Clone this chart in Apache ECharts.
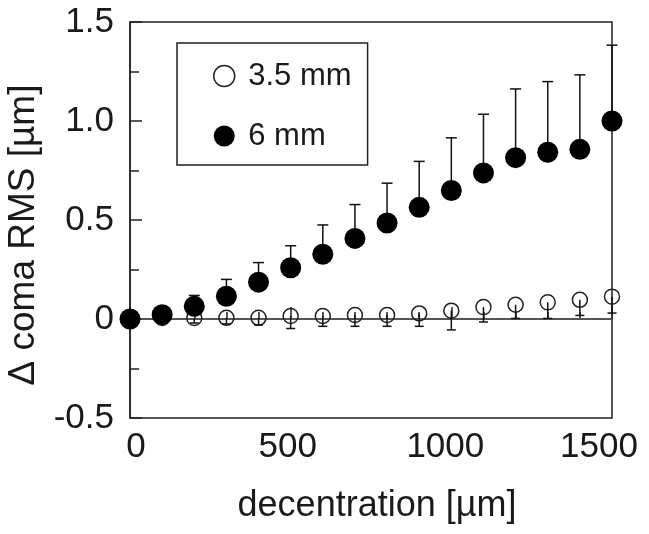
<!DOCTYPE html>
<html>
<head>
<meta charset="utf-8">
<script src="https://cdn.jsdelivr.net/npm/echarts@6/dist/echarts.min.js"></script>
<style>html,body{margin:0;padding:0;background:#fff;}#c{width:649px;height:534px;}</style>
</head>
<body>
<div id="c"></div>
<script>
const decentration = [0, 100, 200, 300, 400, 500, 600, 700, 800, 900, 1000, 1100, 1200, 1300, 1400, 1500];
const coma35 = [0, 0.005, 0.005, 0.006, 0.006, 0.015, 0.015, 0.02, 0.02, 0.028, 0.042, 0.06, 0.072, 0.084, 0.097, 0.113];
const coma35Lower = [0, -0.01, -0.02, -0.025, -0.03, -0.048, -0.037, -0.037, -0.037, -0.037, -0.055, -0.015, 0.003, 0.003, 0.018, 0.03];
const coma6 = [0, 0.022, 0.064, 0.115, 0.186, 0.259, 0.327, 0.407, 0.485, 0.564, 0.649, 0.738, 0.815, 0.842, 0.857, 1.0];
const coma6Upper = [0, 0.03, 0.119, 0.2, 0.285, 0.37, 0.475, 0.578, 0.686, 0.796, 0.915, 1.034, 1.162, 1.199, 1.233, 1.383];
const yTicks = [-0.5, 0, 0.5, 1.0, 1.5];
const xTicks = [0, 500, 1000, 1500];

const FONT = 'Liberation Sans, Arial, sans-serif';
const TXT = '#1a1a1a';

function errItem(capW) {
  return function (params, api) {
    const p0 = api.coord([api.value(0), api.value(1)]);
    const p1 = api.coord([api.value(0), api.value(2)]);
    const st = { stroke: '#111', lineWidth: 1.5 };
    return {
      type: 'group',
      children: [
        { type: 'line', shape: { x1: p0[0], y1: p0[1], x2: p1[0], y2: p1[1] }, style: st },
        { type: 'line', shape: { x1: p1[0] - capW / 2, y1: p1[1], x2: p1[0] + capW / 2, y2: p1[1] }, style: st }
      ]
    };
  };
}

const xLabStyle = { fontFamily: FONT, fontSize: 35, color: TXT };
const chart = echarts.init(document.getElementById('c'), null, { renderer: 'canvas' });
chart.setOption({
  animation: false,
  backgroundColor: '#fff',
  textStyle: { fontFamily: FONT },
  grid: { left: 130, right: 37, top: 22, bottom: 116, containLabel: false, outerBoundsMode: 'none',
    show: true, borderColor: '#222', borderWidth: 1.5, backgroundColor: 'transparent' },
  legend: {
    left: 177, top: 43, orient: 'vertical',
    backgroundColor: '#fff',
    borderColor: '#222', borderWidth: 1.5, borderRadius: 0,
    padding: [16, 16, 12, 36],
    itemWidth: 38, itemHeight: 21, itemGap: 26,
    textStyle: { fontFamily: FONT, fontSize: 31, color: TXT, lineHeight: 34 },
    data: [
      { name: '3.5 mm', icon: 'circle', itemStyle: { color: 'rgba(255,255,255,0)', borderColor: '#222', borderWidth: 1.5 } },
      { name: '6 mm', icon: 'circle', itemStyle: { color: '#000', borderWidth: 0 } }
    ]
  },
  xAxis: {
    type: 'value', min: 0, max: 1500, interval: 500,
    name: 'decentration [µm]', nameLocation: 'middle', nameGap: 70,
    nameTextStyle: { fontFamily: FONT, fontSize: 36, color: TXT, padding: [0, 0, 0, 12] },
    axisLine: { show: true, lineStyle: { color: '#222', width: 1.5 } },
    axisTick: { show: true, inside: true, length: 12, lineStyle: { color: '#222', width: 1.5 } },
    minorTick: { show: true, splitNumber: 5, length: 7, lineStyle: { color: '#222', width: 1.5 } },
    axisLabel: {
      fontFamily: FONT, fontSize: 35, color: TXT, margin: 12,
      formatter: v => {
        if (v === 0) return '{a|0}';
        if (v === 500) return '{b|500}';
        if (v === 1000) return '{c|1000}';
        if (v === 1500) return '{d|1500}';
        return '';
      },
      rich: {
        a: Object.assign({ padding: [0, 0, 0, 12] }, xLabStyle),
        b: Object.assign({ padding: [0, 6, 0, 0] }, xLabStyle),
        c: Object.assign({ padding: [0, 12, 0, 0] }, xLabStyle),
        d: Object.assign({ padding: [0, 26, 0, 0] }, xLabStyle)
      }
    },
    splitLine: { show: false }
  },
  yAxis: {
    type: 'value', min: -0.5, max: 1.5, interval: 0.5,
    name: 'Δ coma RMS [µm]', nameLocation: 'middle', nameGap: 80, nameRotate: 90,
    nameTextStyle: { fontFamily: FONT, fontSize: 37, color: TXT, padding: [0, 30, 0, 0] },
    axisLine: { show: true, lineStyle: { color: '#222', width: 1.5 } },
    axisTick: { show: true, inside: true, length: 12, lineStyle: { color: '#222', width: 1.5 } },
    minorTick: { show: true, splitNumber: 2, length: 9, lineStyle: { color: '#222', width: 1.5 } },
    axisLabel: { fontFamily: FONT, fontSize: 35, color: TXT, margin: 16,
      formatter: v => { const t = yTicks.find(k => Math.abs(k - v) < 1e-9); return t === undefined ? '' : (t === 0 ? '0' : t.toFixed(1)); } },
    splitLine: { show: false }
  },
  series: [
    {
      name: 'zero', type: 'line', data: [[0, 0], [1500, 0]], symbol: 'none',
      lineStyle: { color: '#555', width: 1.5 }, z: 1, silent: true
    },
    {
      name: '3.5 mm', type: 'scatter', symbol: 'circle', symbolSize: 15,
      data: decentration.map((x, i) => [x, coma35[i]]),
      itemStyle: { color: 'rgba(255,255,255,0)', borderColor: '#222', borderWidth: 1.5, opacity: 1 },
      z: 3
    },
    {
      name: 'err35', type: 'custom', renderItem: errItem(9),
      data: decentration.map((x, i) => [x, coma35[i], coma35Lower[i]]),
      z: 4, silent: true
    },
    {
      name: 'err6', type: 'custom', renderItem: errItem(11),
      data: decentration.map((x, i) => [x, coma6[i], coma6Upper[i]]),
      z: 5, silent: true
    },
    {
      name: '6 mm', type: 'scatter', symbol: 'circle', symbolSize: 21,
      data: decentration.map((x, i) => [x, coma6[i]]),
      itemStyle: { color: '#000', opacity: 1 },
      z: 6
    }
  ]
});
</script>
</body>
</html>
